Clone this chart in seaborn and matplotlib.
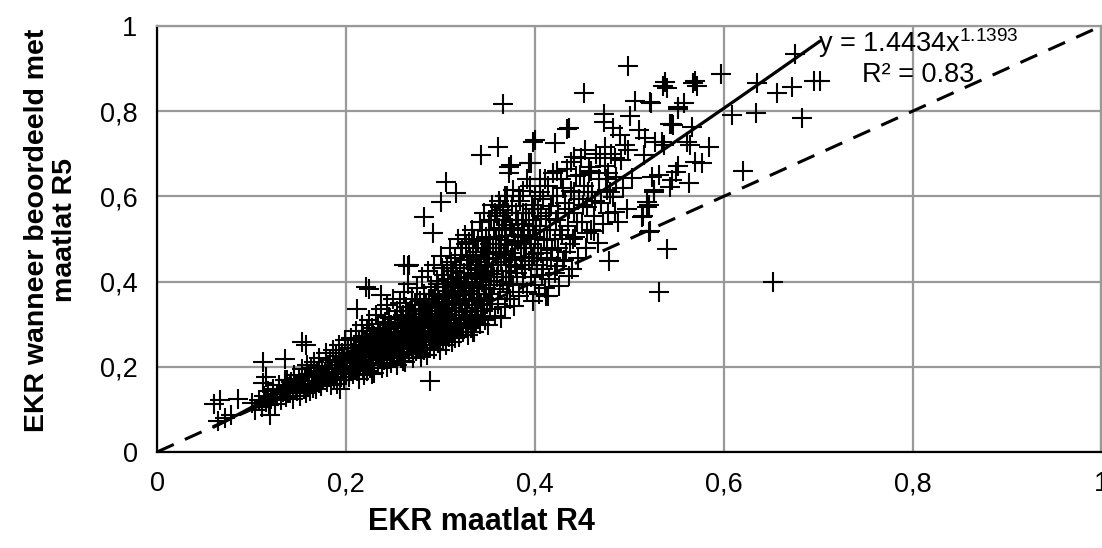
import numpy as np
import pandas as pd
import matplotlib
matplotlib.use('Agg')
import matplotlib.pyplot as plt
import seaborn as sns

# EKR pairs (maatlat R4, maatlat R5), grouped by area of the cloud
lower_tail = [
    (.060, .112), (.067, .121), (.086, .124), (.065, .072), (.072, .079), (.078, .086),
    (.101, .114), (.104, .098), (.108, .121), (.111, .105), (.113, .132), (.115, .118),
    (.117, .142), (.119, .110), (.112, .161), (.112, .212), (.115, .175), (.120, .086),
    (.118, .126), (.136, .219), (.138, .168), (.139, .138), (.154, .259), (.158, .252),
    (.141, .156),
    (.121, .125), (.123, .148), (.125, .113), (.127, .135), (.129, .158), (.131, .122),
    (.133, .141), (.135, .170), (.137, .130), (.139, .152),
    (.141, .138), (.142, .165), (.144, .125), (.145, .181), (.147, .150), (.148, .142),
    (.150, .172), (.151, .131), (.153, .160), (.154, .195), (.156, .148), (.157, .176),
    (.158, .139), (.159, .205),
    (.160, .158), (.161, .183), (.162, .142), (.163, .198), (.164, .166), (.165, .151),
    (.166, .212), (.167, .175), (.168, .147), (.169, .190), (.171, .162), (.172, .220),
    (.173, .181), (.174, .155), (.175, .200), (.176, .170), (.178, .188), (.179, .232),
    (.180, .165), (.181, .195), (.182, .178), (.183, .215), (.184, .158), (.185, .188),
    (.186, .240), (.187, .172), (.188, .205), (.189, .225), (.190, .183), (.191, .160),
    (.192, .198), (.193, .250), (.194, .212), (.195, .176), (.196, .232), (.197, .190),
    (.198, .170), (.198, .218), (.199, .262), (.199, .202), (.194, .149),
]

core_left = [
    (.200, .185), (.201, .222), (.202, .245), (.203, .175), (.204, .208), (.205, .268),
    (.205, .195), (.206, .232), (.207, .182), (.208, .215), (.209, .252), (.210, .200),
    (.211, .285), (.211, .238), (.212, .190), (.213, .222), (.214, .262), (.214, .172),
    (.215, .208), (.216, .245), (.217, .228), (.217, .298), (.218, .195), (.218, .272),
    (.219, .215), (.219, .240), (.219, .180), (.220, .258),
    (.220, .205), (.221, .232), (.222, .285), (.222, .190), (.223, .248), (.224, .215),
    (.224, .310), (.225, .268), (.226, .198), (.226, .238), (.227, .225), (.228, .292),
    (.228, .255), (.229, .210), (.230, .272), (.230, .185), (.231, .242), (.232, .322),
    (.232, .228), (.233, .262), (.234, .205), (.234, .300), (.235, .250), (.236, .218),
    (.236, .280), (.237, .238), (.237, .335), (.238, .265), (.238, .198), (.239, .228),
    (.239, .290), (.240, .252), (.228, .184), (.221, .387), (.224, .382), (.237, .368),
    (.212, .336),
    (.240, .215), (.241, .305), (.241, .240), (.242, .275), (.243, .225), (.243, .345),
    (.244, .260), (.244, .200), (.245, .288), (.246, .245), (.246, .318), (.247, .232),
    (.247, .270), (.248, .210), (.248, .298), (.249, .255), (.250, .360), (.250, .238),
    (.251, .282), (.251, .222), (.252, .312), (.252, .265), (.253, .248), (.254, .330),
    (.254, .205), (.255, .290), (.255, .272), (.256, .235), (.257, .350), (.257, .258),
    (.258, .302), (.258, .220), (.259, .280), (.259, .245), (.260, .322), (.260, .265),
    (.261, .228), (.261, .300), (.262, .375), (.262, .255), (.263, .285), (.263, .212),
    (.264, .340), (.264, .270), (.265, .242), (.265, .315), (.266, .290), (.266, .395),
    (.267, .258), (.267, .232), (.268, .330), (.268, .278), (.269, .302), (.269, .248),
    (.270, .360), (.270, .268), (.271, .220), (.271, .318), (.272, .288), (.272, .252),
    (.273, .345), (.273, .275), (.274, .238), (.274, .305), (.275, .385), (.275, .262),
    (.276, .295), (.277, .325), (.277, .245), (.278, .282), (.278, .355), (.279, .268),
    (.279, .312), (.280, .232), (.260, .214), (.267, .440), (.262, .440), (.266, .436),
]

core_mid = [
    (.280, .292), (.281, .410), (.281, .258), (.282, .335), (.282, .275), (.283, .240),
    (.283, .372), (.284, .305), (.284, .285), (.285, .262), (.285, .350), (.286, .318),
    (.286, .228), (.287, .295), (.287, .425), (.288, .272), (.288, .340), (.289, .250),
    (.289, .308), (.290, .388), (.290, .282), (.291, .325), (.291, .262), (.292, .360),
    (.292, .298), (.293, .242), (.293, .440), (.294, .315), (.294, .278), (.295, .345),
    (.295, .268), (.296, .402), (.296, .292), (.297, .330), (.297, .255), (.298, .370),
    (.298, .308), (.299, .285), (.299, .352), (.300, .240), (.280, .224), (.289, .166),
    (.283, .552), (.292, .515),
    (.300, .320), (.301, .460), (.301, .275), (.302, .345), (.302, .298), (.303, .388),
    (.303, .262), (.304, .335), (.304, .415), (.305, .310), (.305, .285), (.306, .362),
    (.306, .250), (.307, .440), (.307, .325), (.308, .295), (.308, .378), (.309, .270),
    (.309, .350), (.310, .478), (.310, .312), (.311, .400), (.311, .288), (.312, .338),
    (.312, .258), (.313, .425), (.313, .365), (.314, .302), (.314, .280), (.315, .390),
    (.315, .330), (.316, .455), (.316, .268), (.317, .348), (.317, .312), (.318, .410),
    (.318, .292), (.319, .375), (.319, .500), (.320, .322), (.301, .587), (.306, .634),
    (.317, .608),
    (.320, .270), (.321, .438), (.321, .355), (.322, .300), (.322, .395), (.323, .478),
    (.323, .332), (.324, .282), (.324, .368), (.325, .420), (.325, .315), (.326, .510),
    (.326, .345), (.327, .295), (.327, .385), (.328, .450), (.328, .328), (.329, .275),
    (.329, .408), (.330, .360), (.330, .492), (.331, .310), (.331, .378), (.332, .432),
    (.332, .290), (.333, .345), (.333, .520), (.334, .398), (.334, .322), (.335, .462),
    (.335, .282), (.336, .370), (.337, .415), (.337, .338), (.338, .305), (.338, .445),
    (.339, .390), (.339, .355), (.336, .282), (.340, .312),
]

core_right = [
    (.340, .495), (.340, .318), (.341, .428), (.341, .372), (.342, .540), (.342, .300),
    (.343, .455), (.343, .345), (.344, .398), (.344, .478), (.345, .330), (.345, .415),
    (.346, .560), (.346, .362), (.347, .440), (.347, .310), (.348, .385), (.348, .505),
    (.349, .348), (.349, .425), (.350, .470), (.350, .298), (.351, .402), (.351, .545),
    (.352, .372), (.352, .455), (.353, .335), (.353, .488), (.354, .418), (.355, .580),
    (.355, .358), (.356, .440), (.357, .392), (.357, .520), (.358, .320), (.359, .465),
    (.360, .410), (.360, .555), (.361, .348), (.362, .478), (.362, .590), (.363, .382),
    (.364, .445), (.364, .315), (.365, .520), (.366, .400), (.366, .568), (.367, .462),
    (.368, .340), (.368, .498), (.369, .425), (.370, .545), (.371, .375), (.371, .600),
    (.372, .485), (.373, .438), (.374, .360), (.374, .532), (.375, .410), (.376, .578),
    (.376, .468), (.377, .392), (.378, .510), (.378, .342), (.379, .450), (.380, .560),
    (.381, .420), (.382, .495), (.383, .365), (.384, .590), (.385, .458), (.386, .535),
    (.387, .395), (.388, .612), (.389, .478), (.390, .430), (.391, .562), (.392, .375),
    (.393, .510), (.394, .448), (.395, .625), (.396, .488), (.396, .410), (.397, .580),
    (.398, .355), (.398, .530), (.399, .465), (.400, .600), (.400, .392), (.400, .505),
    (.402, .440), (.403, .570), (.404, .372), (.405, .520), (.406, .640), (.407, .468),
    (.408, .415), (.409, .595), (.410, .498), (.411, .385), (.412, .548), (.413, .450),
    (.414, .625), (.415, .405), (.416, .520), (.417, .578), (.418, .475), (.419, .655),
    (.421, .420), (.422, .545), (.424, .600), (.425, .478), (.426, .390), (.428, .640),
    (.429, .510), (.431, .450), (.432, .585), (.434, .665), (.435, .530), (.437, .488),
    (.438, .612), (.439, .430),
    (.441, .560), (.443, .505), (.444, .648), (.446, .455), (.447, .595), (.449, .690),
    (.450, .540), (.452, .625), (.454, .480), (.455, .575), (.457, .668), (.459, .520),
    (.461, .610), (.463, .555), (.465, .700), (.467, .490), (.468, .640), (.470, .585),
    (.472, .535), (.474, .672), (.476, .615), (.478, .560),
    (.481, .700), (.483, .598), (.486, .645), (.488, .540), (.491, .685), (.493, .620),
    (.496, .720), (.498, .570),
]

core_fill = [
    (.302, .432), (.305, .372), (.308, .405), (.311, .445), (.314, .352), (.317, .432),
    (.320, .395), (.322, .462), (.325, .370), (.327, .488), (.329, .432), (.331, .458),
    (.333, .395), (.336, .500), (.338, .470), (.340, .440), (.342, .405), (.344, .520),
    (.346, .470), (.348, .452), (.350, .425), (.351, .500), (.353, .382), (.354, .545),
    (.356, .478), (.357, .410), (.358, .560), (.359, .505), (.361, .440), (.362, .525),
    (.363, .575), (.364, .488), (.365, .410), (.367, .545), (.368, .600), (.369, .470),
    (.370, .508), (.372, .560), (.373, .395), (.375, .455), (.376, .525), (.377, .615),
    (.379, .490), (.380, .435), (.382, .545), (.383, .600), (.385, .505), (.386, .440),
    (.388, .560), (.389, .520), (.391, .480), (.392, .640), (.394, .545), (.395, .500),
    (.397, .455), (.399, .570), (.401, .530), (.403, .480), (.405, .610), (.407, .555),
    (.409, .430), (.411, .640), (.413, .500), (.415, .560), (.417, .455), (.419, .600),
    (.421, .500), (.423, .660), (.425, .560), (.427, .520), (.430, .620), (.433, .470),
    (.436, .570), (.438, .680), (.440, .500), (.442, .610), (.445, .540), (.448, .650),
    (.451, .580), (.456, .610), (.460, .660), (.464, .590), (.469, .690), (.475, .640),
    (.480, .610),
    (.221, .262), (.225, .245), (.229, .278), (.233, .235), (.236, .262), (.240, .288),
    (.243, .270), (.246, .290), (.249, .232), (.252, .295), (.255, .252), (.258, .318),
    (.261, .275), (.264, .300), (.267, .318), (.270, .290), (.273, .300), (.276, .272),
    (.279, .335), (.282, .300), (.285, .330), (.288, .360), (.291, .345), (.294, .370),
    (.297, .395), (.299, .330),
]

upper_spread = [
    (.343, .697), (.361, .716), (.366, .818), (.373, .669), (.375, .674), (.373, .655),
    (.394, .678), (.396, .678), (.398, .727), (.400, .732), (.412, .366), (.414, .366),
    (.421, .725), (.423, .436), (.430, .448), (.434, .757), (.436, .413), (.436, .760),
    (.442, .692), (.452, .842), (.453, .709), (.455, .515), (.457, .655), (.463, .518),
    (.473, .794), (.473, .774), (.474, .716), (.478, .655), (.479, .448), (.483, .760),
    (.485, .690), (.485, .564), (.490, .744), (.499, .907), (.499, .709), (.501, .788),
    (.503, .643), (.506, .825), (.510, .755), (.513, .552), (.515, .555), (.516, .697),
    (.517, .737), (.519, .576), (.519, .587), (.521, .580), (.521, .517), (.522, .822),
    (.522, .518), (.523, .820), (.524, .646), (.526, .611), (.526, .615), (.527, .727),
    (.532, .650), (.532, .375), (.535, .727), (.536, .860), (.537, .720), (.538, .868),
    (.540, .855), (.540, .476), (.543, .771), (.543, .622), (.545, .639), (.545, .769),
    (.546, .767), (.549, .657), (.552, .810), (.552, .804), (.552, .671), (.558, .820),
    (.561, .727), (.563, .632), (.564, .720), (.566, .762), (.568, .865), (.570, .872),
    (.570, .680), (.572, .860), (.577, .678), (.584, .715), (.597, .888), (.609, .790),
    (.620, .660), (.634, .795), (.635, .865), (.652, .400), (.656, .842), (.672, .856),
    (.675, .935), (.683, .783), (.696, .872), (.702, .872),
]

# power trendline shown in the chart: y = a * x^b
fit_a = 1.4434
fit_b = 1.1393
fit_r2 = 0.83

groups = [lower_tail, core_left, core_mid, core_right, core_fill, upper_spread]
df = pd.DataFrame([p for g in groups for p in g], columns=['r4', 'r5'])

sns.set_style('white')
plt.rcParams['font.family'] = ['Liberation Sans', 'DejaVu Sans']
plt.rcParams['mathtext.fontset'] = 'custom'
plt.rcParams['mathtext.rm'] = 'Liberation Sans'
for key in ['text.color', 'axes.labelcolor', 'xtick.color', 'ytick.color']:
    plt.rcParams[key] = 'black'

fig = plt.figure(figsize=(11.02, 5.48), dpi=100)
ax = fig.add_axes([0.1425, 0.1752, 0.857, 0.7774])

sns.scatterplot(data=df, x='r4', y='r5', marker='+', s=190, color='black',
                linewidth=1.5, ax=ax, zorder=3, legend=False)

# trendline over the range of R4 values
xs = np.linspace(df['r4'].min(), df['r4'].max(), 100)
sns.lineplot(x=xs, y=fit_a * xs ** fit_b, color='black', linewidth=2.3, ax=ax, zorder=4)

# 1:1 line
ax.axline((0, 0), slope=1, color='black', linewidth=2.2, dashes=(6, 4), zorder=4)

ax.text(0.806, 0.939, r'y = 1.4434x$^{\mathregular{1.1393}}$', ha='center', va='baseline',
        fontsize=19.5, zorder=5)
ax.text(0.806, 0.868, 'R² = %.2f' % fit_r2, ha='center', va='baseline', fontsize=19.5, zorder=5)

ax.set_xlim(0, 1)
ax.set_ylim(0, 1)
ticks = [0, 0.2, 0.4, 0.6, 0.8, 1]
tick_labels = ['0', '0,2', '0,4', '0,6', '0,8', '1']
ax.set_xticks(ticks)
ax.set_xticklabels(tick_labels)
ax.set_yticks(ticks)
ax.set_yticklabels(tick_labels)
ax.tick_params(direction='out', length=6, width=1.3, labelsize=19.5, color='black', pad=8)

ax.grid(True, color='#999999', linewidth=1.6, zorder=0)
ax.set_axisbelow(True)
for side in ['left', 'bottom']:
    ax.spines[side].set_color('black')
    ax.spines[side].set_linewidth(1.6)
for side in ['top', 'right']:
    ax.spines[side].set_color('#999999')
    ax.spines[side].set_linewidth(1.6)

ax.set_xlabel('EKR maatlat R4', fontsize=22, fontweight='bold')
ax.set_ylabel('EKR wanneer beoordeeld met\nmaatlat R5', fontsize=20.5, fontweight='bold',
              linespacing=1.1)
ax.xaxis.set_label_coords(0.344, -0.13)
ax.yaxis.set_label_coords(-0.084, 0.521)

fig.savefig('out.png', dpi=100)
